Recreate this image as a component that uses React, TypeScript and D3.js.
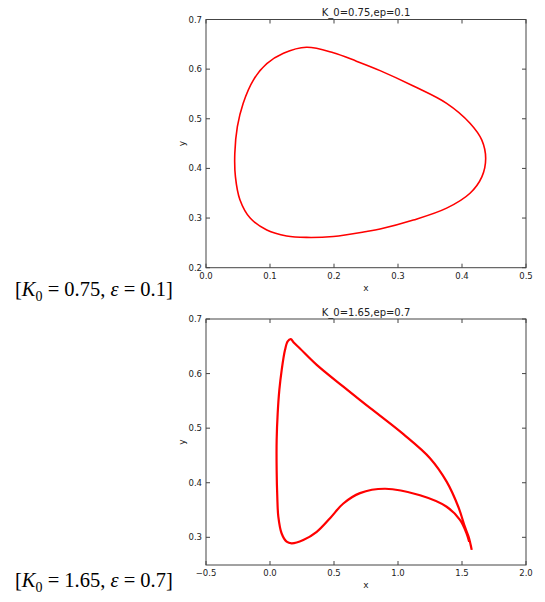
import React from 'react';
import * as d3 from 'd3';

// K_0=0.75, ep=0.1 : closed orbit
const loopX = [0.157, 0.199, 0.235, 0.272, 0.324, 0.376, 0.4125, 0.431, 0.437, 0.431, 0.4125, 0.376, 0.324, 0.272, 0.251, 0.199, 0.157, 0.126, 0.095, 0.069, 0.053, 0.046, 0.045, 0.049, 0.058, 0.074, 0.095, 0.121];
const loopY = [0.644, 0.633, 0.616, 0.597, 0.566, 0.531, 0.491, 0.457, 0.42, 0.383, 0.35, 0.32, 0.296, 0.278, 0.273, 0.263, 0.261, 0.264, 0.276, 0.3, 0.337, 0.383, 0.43, 0.484, 0.531, 0.578, 0.611, 0.632];

// K_0=1.65, ep=0.7 : trajectory from the tip
const trajX = [1.576, 1.553, 1.523, 1.471, 1.38, 1.25, 1.042, 0.859, 0.781, 0.573, 0.365, 0.234, 0.185, 0.162, 0.138, 0.117, 0.091, 0.073, 0.06, 0.052, 0.052, 0.057, 0.065, 0.091, 0.13, 0.169, 0.26, 0.365, 0.469, 0.573, 0.703, 0.9, 1.172, 1.38, 1.484, 1.536, 1.556];
const trajY = [0.277, 0.3, 0.319, 0.356, 0.402, 0.445, 0.489, 0.523, 0.537, 0.576, 0.616, 0.646, 0.657, 0.663, 0.659, 0.643, 0.606, 0.57, 0.527, 0.478, 0.423, 0.374, 0.338, 0.307, 0.292, 0.289, 0.295, 0.31, 0.335, 0.362, 0.381, 0.389, 0.377, 0.356, 0.332, 0.307, 0.292];

const topXTicks = [0, 0.1, 0.2, 0.3, 0.4, 0.5];
const topYTicks = [0.2, 0.3, 0.4, 0.5, 0.6, 0.7];
const botXTicks = [-0.5, 0, 0.5, 1, 1.5, 2];
const botYTicks = [0.3, 0.4, 0.5, 0.6, 0.7];

const tickFont = 'DejaVu Sans, sans-serif';
const fmt = (v: number) => d3.format('.1f')(v).replace('-', '\u2212');

type PanelProps = {
  top: number;
  bottom: number;
  xDomain: [number, number];
  yDomain: [number, number];
  xTicks: number[];
  yTicks: number[];
  xs: number[];
  ys: number[];
  closed: boolean;
  title: string;
  strokeWidth: number;
};

const Panel = ({ top, bottom, xDomain, yDomain, xTicks, yTicks, xs, ys, closed, title, strokeWidth }: PanelProps) => {
  const left = 206;
  const right = 526;
  const x = d3.scaleLinear().domain(xDomain).range([left, right]);
  const y = d3.scaleLinear().domain(yDomain).range([bottom, top]);
  const pts: [number, number][] = xs.map((v, i) => [v, ys[i]]);
  const line = d3
    .line<[number, number]>()
    .x(d => x(d[0]))
    .y(d => y(d[1]))
    .curve(closed ? d3.curveCatmullRomClosed.alpha(0.5) : d3.curveCatmullRom.alpha(0.5));

  return (
    <g>
      <path d={line(pts) || ''} fill="none" stroke="#ff0000" strokeWidth={strokeWidth} strokeLinejoin="round" />
      <rect x={left} y={top} width={right - left} height={bottom - top} fill="none" stroke="#444" strokeWidth={1} />
      {xTicks.map(t => (
        <g key={'x' + t}>
          <line x1={x(t)} x2={x(t)} y1={bottom} y2={bottom - 4} stroke="#444" />
          <line x1={x(t)} x2={x(t)} y1={top} y2={top + 4} stroke="#444" />
          <text x={x(t)} y={bottom + 11} textAnchor="middle" fontSize={8.5} fontFamily={tickFont} fill="#222">
            {fmt(t)}
          </text>
        </g>
      ))}
      {yTicks.map(t => (
        <g key={'y' + t}>
          <line x1={left} x2={left + 4} y1={y(t)} y2={y(t)} stroke="#444" />
          <line x1={right} x2={right - 4} y1={y(t)} y2={y(t)} stroke="#444" />
          <text x={left - 4} y={y(t) + 3} textAnchor="end" fontSize={8.5} fontFamily={tickFont} fill="#222">
            {fmt(t)}
          </text>
        </g>
      ))}
      <text x={(left + right) / 2} y={top - 3.5} textAnchor="middle" fontSize={10} fontFamily={tickFont} fill="#222">
        {title}
      </text>
      <text x={(left + right) / 2} y={bottom + 23} textAnchor="middle" fontSize={9} fontFamily={tickFont} fill="#222">
        x
      </text>
      <text
        transform={`translate(${left - 21},${(top + bottom) / 2}) rotate(-90)`}
        textAnchor="middle"
        fontSize={9}
        fontFamily={tickFont}
        fill="#222"
      >
        y
      </text>
    </g>
  );
};

const Label = ({ y, k, ep }: { y: number; k: string; ep: string }) => (
  <text x={15} y={y} fontSize={20.5} fontFamily="Liberation Serif, Times New Roman, serif" fill="#000">
    [<tspan fontStyle="italic">K</tspan>
    <tspan dy={5} fontSize={14}>0</tspan>
    <tspan dy={-5}>{` = ${k}, `}</tspan>
    <tspan fontStyle="italic">ε</tspan>
    <tspan>{` = ${ep}]`}</tspan>
  </text>
);

export default function App() {
  return (
    <svg width={545} height={602} style={{ position: 'absolute', left: 0, top: 0, background: '#fff' }}>
      <Panel
        top={19.5}
        bottom={267.7}
        xDomain={[0, 0.5]}
        yDomain={[0.2, 0.7]}
        xTicks={topXTicks}
        yTicks={topYTicks}
        xs={loopX}
        ys={loopY}
        closed={true}
        title="K_0=0.75,ep=0.1"
        strokeWidth={1.6}
      />
      <Panel
        top={319}
        bottom={565}
        xDomain={[-0.5, 2]}
        yDomain={[0.2493, 0.7]}
        xTicks={botXTicks}
        yTicks={botYTicks}
        xs={trajX}
        ys={trajY}
        closed={false}
        title="K_0=1.65,ep=0.7"
        strokeWidth={2.2}
      />
      <Label y={296} k="0.75" ep="0.1" />
      <Label y={587} k="1.65" ep="0.7" />
    </svg>
  );
}
